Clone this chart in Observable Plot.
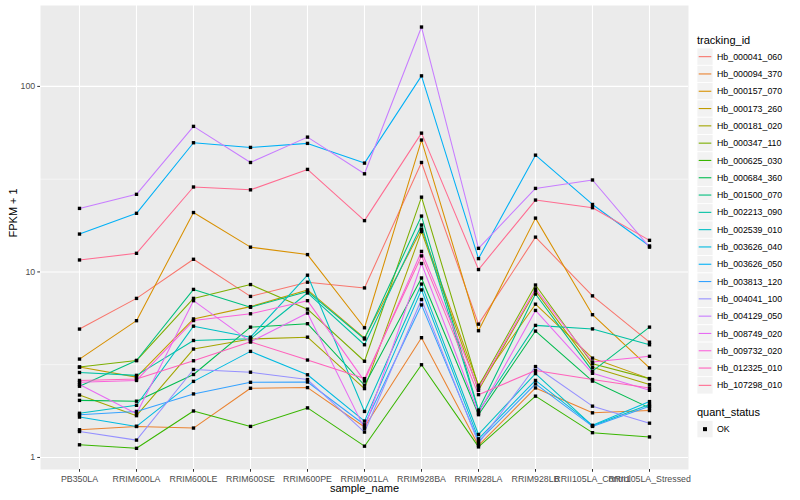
<!DOCTYPE html>
<html>
<head>
<meta charset="utf-8">
<script src="https://cdn.jsdelivr.net/npm/d3@7"></script>
<script src="https://cdn.jsdelivr.net/npm/@observablehq/plot@0.6"></script>
<style>
  html, body { margin: 0; padding: 0; background: #fff; }
  #wrap { display: flex; width: 800px; height: 500px; font-family: "Liberation Sans", Arial, sans-serif; }
</style>
</head>
<body>
<div id="wrap"><div id="chart"></div><div id="legend"></div></div>
<script>
const samples = ["PB350LA","RRIM600LA","RRIM600LE","RRIM600SE","RRIM600PE","RRIM901LA","RRIM928BA","RRIM928LA","RRIM928LB","RRII105LA_Control","RRII105LA_Stressed"];
const trackingIds = ["Hb_000041_060","Hb_000094_370","Hb_000157_070","Hb_000173_260","Hb_000181_020","Hb_000347_110","Hb_000625_030","Hb_000684_360","Hb_001500_070","Hb_002213_090","Hb_002539_010","Hb_003626_040","Hb_003626_050","Hb_003813_120","Hb_004041_100","Hb_004129_050","Hb_008749_020","Hb_009732_020","Hb_012325_010","Hb_107298_010"];
const palette = ["#F8766D","#EA8331","#D89000","#C09B00","#A3A500","#7CAE00","#39B600","#00BB4E","#00BF7D","#00C1A3","#00BFC4","#00BAE0","#00B0F6","#35A2FF","#9590FF","#C77CFF","#E76BF3","#FA62DB","#FF62BC","#FF6C91"];

// FPKM + 1 per sample, one array per tracking_id
const hb_000041_060 = [4.92, 7.2, 11.7, 7.38, 8.8, 8.2, 38.9, 5.23, 15.4, 7.43, 4.18];
const hb_000094_370 = [1.41, 1.47, 1.44, 2.36, 2.38, 1.46, 4.42, 1.16, 2.37, 1.74, 1.79];
const hb_000157_070 = [3.39, 5.46, 20.9, 13.6, 12.4, 5.0, 51.4, 4.82, 19.5, 5.88, 3.04];
const hb_000173_260 = [3.07, 2.71, 5.58, 6.5, 8.0, 4.4, 17.0, 2.45, 6.7, 3.43, 2.66];
const hb_000181_020 = [2.17, 1.68, 3.84, 4.35, 4.45, 2.35, 16.5, 2.30, 7.9, 3.06, 2.47];
const hb_000347_110 = [3.07, 3.33, 7.2, 8.55, 6.3, 3.30, 25.3, 2.41, 8.5, 3.2, 2.66];
const hb_000625_030 = [1.17, 1.12, 1.78, 1.47, 1.85, 1.15, 3.16, 1.14, 2.14, 1.36, 1.29];
const hb_000684_360 = [2.03, 2.01, 2.80, 5.04, 5.26, 2.45, 9.28, 1.70, 4.8, 2.58, 1.85];
const hb_001500_070 = [2.42, 3.33, 8.05, 6.45, 7.85, 4.35, 20.0, 1.80, 7.6, 2.92, 5.04];
const hb_002213_090 = [2.87, 2.77, 4.27, 4.36, 7.7, 4.05, 17.9, 1.77, 5.15, 4.93, 4.05];
const hb_002539_010 = [1.73, 1.91, 5.1, 4.45, 9.6, 1.77, 8.6, 1.33, 2.83, 1.48, 1.93];
const hb_003626_040 = [1.65, 1.47, 2.57, 3.73, 2.79, 1.57, 8.0, 1.26, 2.6, 1.49, 2.0];
const hb_003626_050 = [16, 20.7, 49.7, 46.9, 49.3, 38.6, 114, 11.8, 42.6, 23.1, 13.8];
const hb_003813_120 = [1.70, 1.77, 2.20, 2.54, 2.55, 1.50, 6.64, 1.22, 2.49, 1.47, 1.89];
const hb_004041_100 = [1.38, 1.24, 2.98, 2.88, 2.63, 1.37, 7.1, 1.19, 3.09, 1.89, 1.53];
const hb_004129_050 = [22, 26.2, 60.9, 38.9, 53.3, 33.8, 209, 13.4, 28.2, 31.3, 13.6];
const hb_008749_020 = [2.47, 1.72, 7.0, 4.2, 6.0, 1.43, 11.1, 1.73, 6.2, 2.84, 2.30];
const hb_009732_020 = [2.54, 2.60, 5.47, 5.95, 7.0, 2.58, 12.9, 2.36, 8.1, 3.27, 3.51];
const hb_012325_010 = [2.60, 2.65, 3.32, 4.2, 3.35, 2.66, 12.2, 2.18, 2.94, 2.63, 2.37];
const hb_107298_010 = [11.6, 12.6, 28.7, 27.7, 35.7, 18.9, 56, 10.3, 24.4, 22.2, 14.8];

const seriesValues = [hb_000041_060, hb_000094_370, hb_000157_070, hb_000173_260, hb_000181_020, hb_000347_110, hb_000625_030, hb_000684_360, hb_001500_070, hb_002213_090, hb_002539_010, hb_003626_040, hb_003626_050, hb_003813_120, hb_004041_100, hb_004129_050, hb_008749_020, hb_009732_020, hb_012325_010, hb_107298_010];

const majorY = [1, 10, 100];
const minorY = [Math.sqrt(10), Math.sqrt(1000)];
const quantStatus = ["OK"];

const rows = [];
trackingIds.forEach((id, i) => {
  samples.forEach((s, j) => rows.push({tracking_id: id, sample_name: s, fpkm: seriesValues[i][j], quant_status: "OK"}));
});

const font = '"Liberation Sans", Arial, sans-serif';

const chart = Plot.plot({
  width: 692,
  height: 500,
  marginLeft: 40,
  marginRight: 4,
  marginTop: 5,
  marginBottom: 31,
  style: {fontFamily: font, background: "white"},
  x: {type: "point", domain: samples, padding: 0.6, label: null},
  y: {type: "log", domain: [0.861, 273], label: null},
  color: {domain: trackingIds, range: palette},
  marks: [
    Plot.frame({fill: "#EBEBEB", stroke: null}),
    Plot.ruleY(minorY, {stroke: "white", strokeWidth: 0.55}),
    Plot.ruleY(majorY, {stroke: "white", strokeWidth: 1.1}),
    Plot.ruleX(samples, {stroke: "white", strokeWidth: 1.1}),
    Plot.line(rows, {x: "sample_name", y: "fpkm", z: "tracking_id", stroke: "tracking_id", strokeWidth: 1.05}),
    Plot.dot(rows, {x: "sample_name", y: "fpkm", symbol: "square", fill: "black", stroke: null, r: 1.9}),
    Plot.axisX({tickSize: 2.75, tickPadding: 3, fontSize: 8.8, color: "#4D4D4D", stroke: "#333333", label: null}),
    Plot.axisY({ticks: majorY, tickFormat: d => String(d), tickSize: 2.75, tickPadding: 2.5, fontSize: 8.8, color: "#4D4D4D", stroke: "#333333", label: null}),
    Plot.text(["sample_name"], {frameAnchor: "bottom", lineAnchor: "middle", dy: 19, fontSize: 11, fill: "black", text: d => d}),
    Plot.text(["FPKM + 1"], {frameAnchor: "left", dx: -27, rotate: -90, fontSize: 11, fill: "black", text: d => d})
  ]
});
document.getElementById("chart").appendChild(chart);

// Legend (ggplot-style, right side)
const leg = d3.select("#legend").append("svg").attr("width", 108).attr("height", 500)
  .style("font-family", font);
const keyX = 5, keyW = 16, keyH = 17.3, firstY = 48;
leg.append("text").attr("x", keyX).attr("y", 44).attr("font-size", 11).attr("fill", "black").text("tracking_id");
trackingIds.forEach((id, i) => {
  const y0 = firstY + i * keyH;
  leg.append("rect").attr("x", keyX).attr("y", y0).attr("width", keyW).attr("height", keyH)
    .attr("fill", "#F2F2F2").attr("stroke", "white").attr("stroke-width", 0.8);
  leg.append("line").attr("x1", keyX + 1.7).attr("x2", keyX + keyW - 1.7)
    .attr("y1", y0 + keyH / 2).attr("y2", y0 + keyH / 2)
    .attr("stroke", palette[i]).attr("stroke-width", 1.1);
  leg.append("text").attr("x", keyX + keyW + 4).attr("y", y0 + keyH / 2 + 3.1)
    .attr("font-size", 8.8).attr("fill", "black").text(id);
});
leg.append("text").attr("x", keyX).attr("y", 416).attr("font-size", 11).attr("fill", "black").text("quant_status");
quantStatus.forEach((q, i) => {
  const y0 = 420.5 + i * keyH;
  leg.append("rect").attr("x", keyX).attr("y", y0).attr("width", keyW).attr("height", keyH)
    .attr("fill", "#F2F2F2").attr("stroke", "white").attr("stroke-width", 0.8);
  leg.append("rect").attr("x", keyX + keyW / 2 - 2).attr("y", y0 + keyH / 2 - 2).attr("width", 4).attr("height", 4).attr("fill", "black");
  leg.append("text").attr("x", keyX + keyW + 4).attr("y", y0 + keyH / 2 + 3.1)
    .attr("font-size", 8.8).attr("fill", "black").text(q);
});
</script>
</body>
</html>
